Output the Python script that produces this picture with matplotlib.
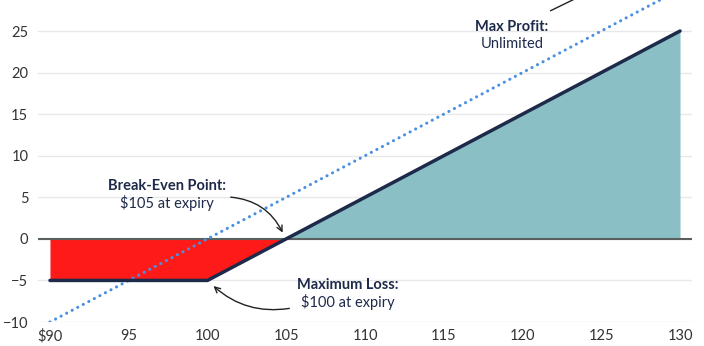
import numpy as np
import matplotlib.pyplot as plt

plt.rcParams['font.family'] = ['Lato', 'DejaVu Sans']

# payoff of a long call, strike 100, premium 5
price = [90, 100, 105, 130]
payoff = [-5, -5, 0, 25]
stock_x = [90, 131.5]
stock_y = [-10, 31.5]

xticks = [90, 95, 100, 105, 110, 115, 120, 125, 130]
xlabels = ['$90', '95', '100', '105', '110', '115', '120', '125', '130']
yticks = [-10, -5, 0, 5, 10, 15, 20, 25]

navy = '#1e2a4a'
fig = plt.figure(figsize=(7.04, 3.46), dpi=100)
ax = fig.add_axes([38 / 704, 24 / 346, 654 / 704, 322 / 346])

ax.set_xlim(89.24, 130.76)
ax.set_ylim(-10, 28.73)

for s in ax.spines.values():
    s.set_visible(False)
ax.set_yticks(yticks)
ax.set_xticks(xticks)
ax.set_xticklabels(xlabels)
ax.tick_params(length=0, labelsize=10.5, labelcolor='#333333')
ax.tick_params(axis='y', pad=7)
ax.tick_params(axis='x', pad=5)
ax.grid(axis='y', color='#e8e8e8', lw=1)
ax.set_axisbelow(True)

x = np.array(price, float)
y = np.array(payoff, float)
ax.fill_between(x, y, 0, where=x <= 105, color='#ff1a1a', lw=0, zorder=2)
ax.fill_between(x, y, 0, where=x >= 105, color='#8bbfc6', lw=0, zorder=2)
ax.axhline(0, color='#5a5f5f', lw=1.5, zorder=3)

ax.plot(stock_x, stock_y, color='#4a90e2', lw=2.2, ls=(0, (0.05, 2.0)),
        dash_capstyle='round', zorder=4, clip_on=True)
ax.plot(price, payoff, color=navy, lw=2.5, solid_capstyle='round', zorder=5)

def label(xc, yc, head, body):
    ax.text(xc, yc, head, ha='center', va='center', fontsize=10.5,
            fontweight='bold', color=navy, zorder=6)
    ax.text(xc, yc - 2.1, body, ha='center', va='center', fontsize=10.5,
            color=navy, zorder=6)

label(97.43, 6.36, 'Break-Even Point:', '$105 at expiry')
label(108.92, -5.54, 'Maximum Loss:', '$100 at expiry')
label(119.33, 25.5, 'Max Profit:', 'Unlimited')

ax.annotate('', xy=(104.85, 0.45), xytext=(101.3, 5.04),
            arrowprops=dict(arrowstyle='->', color='#222222', lw=1,
                            connectionstyle='arc3,rad=-0.3'))
ax.annotate('', xy=(100.25, -5.45), xytext=(105.37, -8.31),
            arrowprops=dict(arrowstyle='->', color='#222222', lw=1,
                            connectionstyle='arc3,rad=-0.25'))
ax.annotate('', xy=(125.2, 30.6), xytext=(121.62, 27.29),
            arrowprops=dict(arrowstyle='-', color='#222222', lw=1),
            annotation_clip=False)

fig.savefig('out.png', dpi=100)
